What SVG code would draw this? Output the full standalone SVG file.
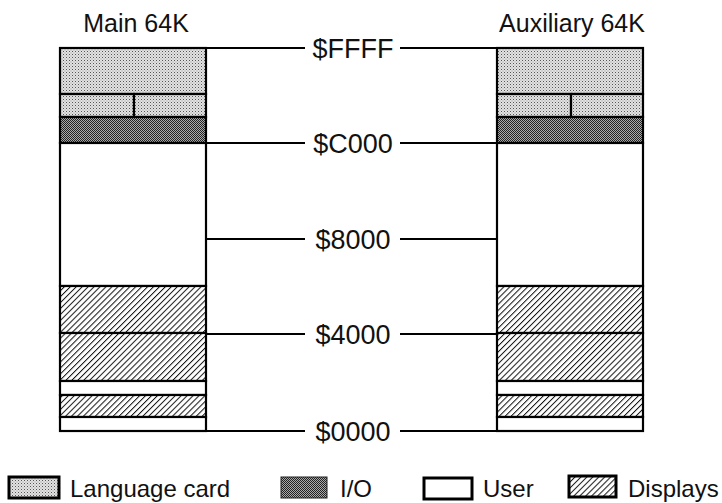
<svg xmlns="http://www.w3.org/2000/svg" width="722" height="503" viewBox="0 0 722 503">
<style>
  text { font-family: "Liberation Sans", Arial, sans-serif; fill: #111; }
  .hdr { font-size: 25px; }
  .addr { font-size: 27px; text-anchor: middle; }
  .leg { font-size: 24px; }
  .blk { stroke: #000; stroke-width: 2.2; }
  .ln { stroke: #000; stroke-width: 2.2; fill: none; }
  .lc { fill: url(#lc); }
  .io { fill: url(#io); }
  .user { fill: #fff; }
  .disp { fill: url(#hatch); }
</style>
<defs>
  <pattern id="lc" width="3" height="3" patternUnits="userSpaceOnUse">
    <rect width="3" height="3" fill="#e2e2e2"/>
    <rect x="0" y="0" width="1" height="1" fill="#555"/>
    <rect x="1.5" y="1.5" width="1" height="1" fill="#999"/>
  </pattern>
  <pattern id="io" width="2" height="2" patternUnits="userSpaceOnUse">
    <rect width="2" height="2" fill="#aaa"/>
    <rect x="0" y="0" width="1" height="1" fill="#222"/>
    <rect x="1" y="1" width="1" height="1" fill="#222"/>
  </pattern>
  <pattern id="hatch" width="4.2" height="4.2" patternUnits="userSpaceOnUse" patternTransform="rotate(45)">
    <rect width="4.2" height="4.2" fill="#fff"/>
    <line x1="0" y1="0" x2="0" y2="4.2" stroke="#111" stroke-width="2"/>
  </pattern>
</defs>
<rect width="722" height="503" fill="#fff"/>

<text class="hdr" x="136" y="32" text-anchor="middle">Main 64K</text>
<text class="hdr" x="572" y="32" text-anchor="middle">Auxiliary 64K</text>

<g id="main-64k">
  <rect class="blk lc" x="60" y="48" width="146" height="46"/>
  <rect class="blk lc" x="60" y="94" width="74" height="23"/>
  <rect class="blk lc" x="134" y="94" width="72" height="23"/>
  <rect class="blk io" x="60" y="117" width="146" height="26"/>
  <rect class="blk user" x="60" y="143" width="146" height="143"/>
  <rect class="blk disp" x="60" y="286" width="146" height="47"/>
  <rect class="blk disp" x="60" y="333" width="146" height="48"/>
  <rect class="blk user" x="60" y="381" width="146" height="14"/>
  <rect class="blk disp" x="60" y="395" width="146" height="22"/>
  <rect class="blk user" x="60" y="417" width="146" height="14"/>
</g>

<g id="aux-64k">
  <rect class="blk lc" x="497" y="48" width="146" height="46"/>
  <rect class="blk lc" x="497" y="94" width="74" height="23"/>
  <rect class="blk lc" x="571" y="94" width="72" height="23"/>
  <rect class="blk io" x="497" y="117" width="146" height="26"/>
  <rect class="blk user" x="497" y="143" width="146" height="143"/>
  <rect class="blk disp" x="497" y="286" width="146" height="47"/>
  <rect class="blk disp" x="497" y="333" width="146" height="48"/>
  <rect class="blk user" x="497" y="381" width="146" height="14"/>
  <rect class="blk disp" x="497" y="395" width="146" height="22"/>
  <rect class="blk user" x="497" y="417" width="146" height="14"/>
</g>

<g id="connectors">
  <path class="ln" d="M206 48H305M400 48H497"/>
  <path class="ln" d="M206 143H305M400 143H497"/>
  <path class="ln" d="M206 239H305M400 239H497"/>
  <path class="ln" d="M206 334H305M400 334H497"/>
  <path class="ln" d="M206 431H305M400 431H497"/>
</g>

<g id="addresses">
  <text class="addr" x="353" y="57.5">$FFFF</text>
  <text class="addr" x="353" y="152.5">$C000</text>
  <text class="addr" x="353" y="248.5">$8000</text>
  <text class="addr" x="353" y="343.5">$4000</text>
  <text class="addr" x="353" y="440.5">$0000</text>
</g>

<g id="legend-language-card">
  <rect x="9" y="477" width="50" height="21" fill="url(#lc)" stroke="#000" stroke-width="3"/>
  <text class="leg" x="70" y="497">Language card</text>
</g>
<g id="legend-io">
  <rect x="281" y="477" width="46" height="21" fill="url(#io)" stroke="#222" stroke-width="1"/>
  <text class="leg" x="340" y="497">I/O</text>
</g>
<g id="legend-user">
  <rect x="424" y="478" width="48" height="21" fill="#fff" stroke="#000" stroke-width="3"/>
  <text class="leg" x="483" y="497">User</text>
</g>
<g id="legend-displays">
  <rect x="569" y="476" width="47" height="21" fill="url(#hatch)" stroke="#000" stroke-width="3"/>
  <text class="leg" x="628" y="497">Displays</text>
</g>
</svg>
